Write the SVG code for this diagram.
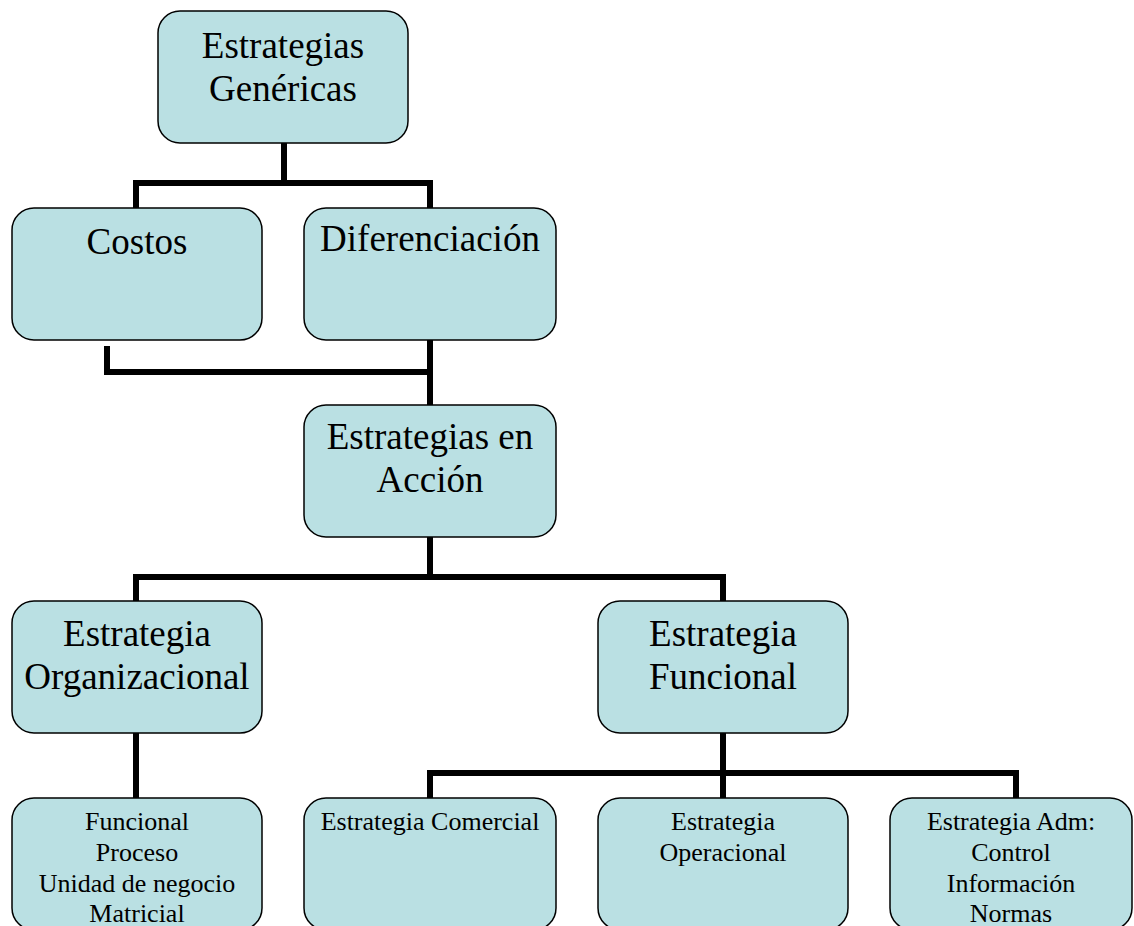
<svg xmlns="http://www.w3.org/2000/svg" width="1134" height="926" viewBox="0 0 1134 926">
<style>
.box{fill:#bae0e3;stroke:#000;stroke-width:1.5}
.lg{font-family:"Liberation Serif","Times New Roman",serif;font-size:37px;fill:#000;text-anchor:middle}
.sm{font-family:"Liberation Serif","Times New Roman",serif;font-size:26px;fill:#000;text-anchor:middle}
.con{fill:none;stroke:#000;stroke-width:6;stroke-linecap:butt;stroke-linejoin:miter}
</style>
<rect width="1134" height="926" fill="#fff"/>
<g id="connectors">
<path class="con" d="M284 143V183M136 208V183H430V208"/>
<path class="con" d="M107 346V372H430M430 340V405"/>
<path class="con" d="M430 537V577M136 601V577H723V601"/>
<path class="con" d="M136 733V798"/>
<path class="con" d="M723 733V773M430 798V773H1016V798M723 773V798"/>
</g>
<g id="n-genericas"><rect class="box" x="158" y="11" width="250" height="132" rx="22"/><text class="lg" x="283" y="58">Estrategias</text><text class="lg" x="283" y="101">Genéricas</text></g>
<g id="n-costos"><rect class="box" x="12" y="208" width="250" height="132" rx="22"/><text class="lg" x="137" y="254">Costos</text></g>
<g id="n-diferenciacion"><rect class="box" x="304" y="208" width="252" height="132" rx="22"/><text class="lg" x="430" y="251">Diferenciación</text></g>
<g id="n-accion"><rect class="box" x="304" y="405" width="252" height="132" rx="22"/><text class="lg" x="430" y="449">Estrategias en</text><text class="lg" x="430" y="492">Acción</text></g>
<g id="n-organizacional"><rect class="box" x="12" y="601" width="250" height="132" rx="22"/><text class="lg" x="137" y="646">Estrategia</text><text class="lg" x="137" y="689">Organizacional</text></g>
<g id="n-funcional"><rect class="box" x="598" y="601" width="250" height="132" rx="22"/><text class="lg" x="723" y="646">Estrategia</text><text class="lg" x="723" y="689">Funcional</text></g>
<g id="n-estructuras"><rect class="box" x="12" y="798" width="250" height="132" rx="22"/><text class="sm" x="137" y="830">Funcional</text><text class="sm" x="137" y="861">Proceso</text><text class="sm" x="137" y="892">Unidad de negocio</text><text class="sm" x="137" y="922">Matricial</text></g>
<g id="n-comercial"><rect class="box" x="304" y="798" width="252" height="132" rx="22"/><text class="sm" x="430" y="830">Estrategia Comercial</text></g>
<g id="n-operacional"><rect class="box" x="598" y="798" width="250" height="132" rx="22"/><text class="sm" x="723" y="830">Estrategia</text><text class="sm" x="723" y="861">Operacional</text></g>
<g id="n-adm"><rect class="box" x="890" y="798" width="242" height="132" rx="22"/><text class="sm" x="1011" y="830">Estrategia Adm:</text><text class="sm" x="1011" y="861">Control</text><text class="sm" x="1011" y="892">Información</text><text class="sm" x="1011" y="922">Normas</text></g>
</svg>
